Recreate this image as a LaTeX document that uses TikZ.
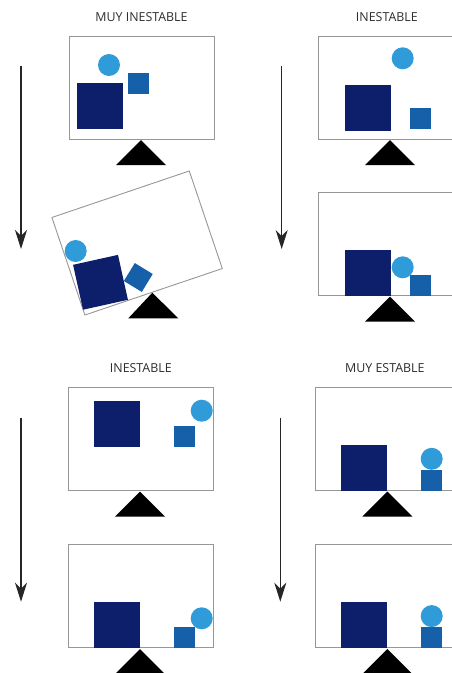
\documentclass[tikz,border=0pt]{standalone}
\usepackage{fontspec}
\setmainfont{Open Sans}
\usepackage{xcolor}
\usepackage{tikz}
\usetikzlibrary{arrows.meta,positioning}
\definecolor{balanceblue}{RGB}{47,155,216}
\definecolor{balancemid}{RGB}{21,96,168}
\definecolor{balancenavy}{RGB}{13,31,106}
\definecolor{plategray}{RGB}{150,150,150}
\definecolor{titlegray}{RGB}{45,45,45}

\begin{document}
\begin{tikzpicture}[
    x=1pt, y=-1pt,
    plate/.style={rectangle, draw=plategray, line width=0.9pt, minimum width=145pt, minimum height=103pt, inner sep=0pt},
    bigsq/.style={rectangle, fill=balancenavy, minimum size=46pt, inner sep=0pt},
    smallsq/.style={rectangle, fill=balancemid, minimum size=21pt, inner sep=0pt},
    ball/.style={circle, fill=balanceblue, minimum size=22pt, inner sep=0pt},
    pivot/.style={fill=black},
    title/.style={inner sep=0pt, text=titlegray, font=\fontsize{12.4}{14}\selectfont},
    arrow/.style={-{Stealth[length=19pt,width=12pt,inset=6pt]}, line width=1.2pt, draw=black!85}
]
    \useasboundingbox (0,0) rectangle (452,673);

    % Top left: muy inestable
    \coordinate (piv1) at (141,140);
    \node[plate, anchor=south] (box1) at (141.5,139.5) {};
    \node[title, above=14pt of box1] (tit1) {MUY INESTABLE};
    \node[bigsq] (big1) at (100,106) {};
    \node[smallsq] (sm1) at (138,83.5) {};
    \node[ball] (ball1) at (109,65) {};
    \fill[pivot] (piv1) -- ++(-25,25) -- ++(50,0) -- cycle;

    % tilted plate
    \coordinate (piv1b) at (152.3,292.7);
    \node[plate, rotate=18.7] (box1b) at (137.1,243) {};
    \node[bigsq, rotate=12.5] (big1b) at (100.5,282.3) {};
    \node[smallsq, rotate=-31.4] (sm1b) at (138.3,277.5) {};
    \node[ball] (ball1b) at (75.7,251) {};
    \fill[pivot] (piv1b) -- ++(-24,25.6) -- ++(50,0) -- cycle;

    \coordinate (arr1s) at (21,66);
    \coordinate (arr1e) at (21,249);
    \draw[arrow] (arr1s) -- (arr1e);

    % Top right: inestable
    \coordinate (piv2) at (390,140);
    \node[plate, anchor=south] (box2) at (390.8,139.5) {};
    \node[title, above=14pt of box2.north west, anchor=south, xshift=69pt] (tit2) {INESTABLE};
    \node[bigsq] (big2) at (367.5,107.7) {};
    \node[smallsq] (sm2) at (420.8,118) {};
    \node[ball] (ball2) at (402.7,58.3) {};
    \fill[pivot] (piv2) -- ++(-25,25) -- ++(50,0) -- cycle;

    \coordinate (piv2b) at (390,296.5);
    \node[plate, anchor=south] (box2b) at (390.8,296) {};
    \node[bigsq, anchor=south] (big2b) at (367.5,296) {};
    \node[smallsq, anchor=south] (sm2b) at (420.8,296) {};
    \node[ball] (ball2b) at (402.7,267.3) {};
    \fill[pivot] (piv2b) -- ++(-25,25) -- ++(50,0) -- cycle;

    \coordinate (arr2s) at (281.7,66);
    \coordinate (arr2e) at (281.7,249);
    \draw[arrow] (arr2s) -- (arr2e);

    % Bottom left: inestable
    \coordinate (piv3) at (140,491.5);
    \node[plate, anchor=south] (box3) at (140.8,491) {};
    \node[title, above=14pt of box3] (tit3) {INESTABLE};
    \node[bigsq] (big3) at (116.7,424) {};
    \node[smallsq] (sm3) at (184.2,436.3) {};
    \node[ball] (ball3) at (201.7,410.7) {};
    \fill[pivot] (piv3) -- ++(-25,25) -- ++(50,0) -- cycle;

    \coordinate (piv3b) at (140,649);
    \node[plate, anchor=south] (box3b) at (140.8,648.3) {};
    \node[bigsq, anchor=south] (big3b) at (116.7,648.3) {};
    \node[smallsq, anchor=south] (sm3b) at (184.2,648.3) {};
    \node[ball] (ball3b) at (201.7,618.3) {};
    \fill[pivot] (piv3b) -- ++(-25,25) -- ++(50,0) -- cycle;

    \coordinate (arr3s) at (21,417.7);
    \coordinate (arr3e) at (21,601.7);
    \draw[arrow] (arr3s) -- (arr3e);

    % Bottom right: muy estable
    \coordinate (piv4) at (387.3,491.5);
    \node[plate, anchor=south] (box4) at (387.8,491) {};
    \node[title, above=14pt of box4.north west, anchor=south, xshift=70pt] (tit4) {MUY ESTABLE};
    \node[bigsq, anchor=south] (big4) at (364.2,491) {};
    \node[smallsq, anchor=south] (sm4) at (431.8,491) {};
    \node[ball, anchor=south] (ball4) at (431.7,470) {};
    \fill[pivot] (piv4) -- ++(-25,25) -- ++(50,0) -- cycle;

    \coordinate (piv4b) at (387.3,649);
    \node[plate, anchor=south] (box4b) at (387.8,648.3) {};
    \node[bigsq, anchor=south] (big4b) at (364.2,648.3) {};
    \node[smallsq, anchor=south] (sm4b) at (431.8,648.3) {};
    \node[ball, anchor=south] (ball4b) at (431.7,627.3) {};
    \fill[pivot] (piv4b) -- ++(-25,25) -- ++(50,0) -- cycle;

    \coordinate (arr4s) at (280.3,417.7);
    \coordinate (arr4e) at (280.3,601.7);
    \draw[arrow] (arr4s) -- (arr4e);
\end{tikzpicture}
\end{document}
